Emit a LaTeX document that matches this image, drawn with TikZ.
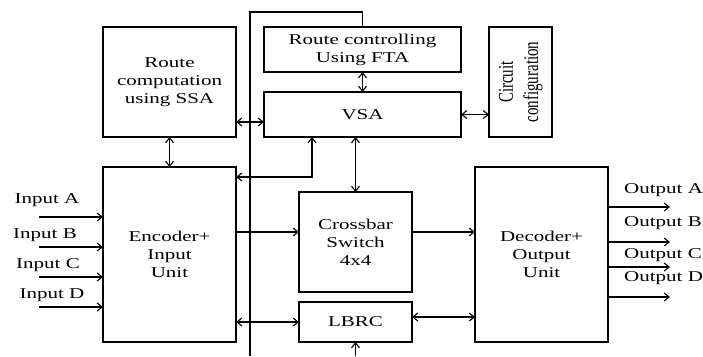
\documentclass[tikz,border=0pt]{standalone}
\usepackage{fontspec}
\setmainfont[FakeStretch=1.4]{Liberation Serif}
\newfontfamily\upfont{Liberation Serif}
\usepackage{graphicx}
\usetikzlibrary{arrows.meta,positioning}

\begin{document}
\begin{tikzpicture}[
			x=1pt, y=-1pt,
			font=\fontsize{15}{18}\selectfont,
			block/.style={draw, line width=1.2pt, align=center, inner sep=0pt, outer sep=0pt},
			lbl/.style={inner sep=0pt},
			arrow/.style={line width=1.1pt, -{Straight Barb[length=5pt,width=8pt]}},
			darrow/.style={line width=1.1pt, {Straight Barb[length=5pt,width=8pt]}-{Straight Barb[length=5pt,width=8pt]}},
			bus/.style={line width=1.6pt}
			]
			\useasboundingbox (0,0) rectangle (703,356);
			
			% 节点定义
			\node (ssa) [block, minimum width=133pt, minimum height=110pt, anchor=north west] at (103,27) {Route\\computation\\using SSA};
			\node (enc) [block, minimum width=133pt, minimum height=175pt, below=30pt of ssa] {Encoder+\\Input\\Unit};
			\node (rc) [block, minimum width=197pt, minimum height=45pt, anchor=north west] at (264,27) {Route controlling\\Using FTA};
			\node (vsa) [block, minimum width=197pt, minimum height=45pt, below=20pt of rc] {VSA};
			\node (cc) [block, minimum width=63pt, minimum height=110pt, right=28pt of rc.north east, anchor=north west] {\rotatebox{90}{\scalebox{1}[1.4]{\upfont\begin{tabular}{@{}c@{}}Circuit\\configuration\end{tabular}}}};
			\node (cb) [block, minimum width=113pt, minimum height=100pt, anchor=north west] at (299,192) {Crossbar\\Switch\\4x4};
			\node (lbrc) [block, minimum width=113pt, minimum height=40pt, below=10pt of cb] {LBRC};
			\node (dec) [block, minimum width=133pt, minimum height=175pt, anchor=north west] at (475,167) {Decoder+\\Output\\Unit};
			
			% 总线
			\coordinate (busb) at (250,356);
			\coordinate (bust) at (250,12);
			\draw [bus] (busb) -- (bust) -| (rc.north);
			
			% 边缘箭头
			\draw [darrow] (ssa) -- (enc);
			\draw [darrow] ([yshift=15pt]ssa.south east) -- ([yshift=15pt]ssa.south east -| vsa.west);
			\draw [darrow] (rc) -- (vsa);
			\draw [darrow] (vsa.east) -- (vsa.east -| cc.west);
			\draw [darrow] (vsa.south -| cb.north) -- (cb.north);
			\draw [darrow] ([yshift=-10pt]enc.north east) -| ([xshift=48pt]vsa.south west);
			\draw [arrow] ([yshift=10pt]cb.west -| enc.east) -- ([yshift=10pt]cb.west);
			\draw [arrow] ([yshift=10pt]cb.east) -- ([yshift=10pt]cb.east -| dec.west);
			\draw [darrow] (lbrc.west -| enc.east) -- (lbrc.west);
			\draw [darrow] ([yshift=5pt]lbrc.east) -- ([yshift=5pt]lbrc.east -| dec.west);
			\coordinate (lbin) at (lbrc.south |- busb);
			\draw [arrow] (lbin) -- (lbrc.south);
			
			% 输入输出
			\foreach \n/\y/\ly/\lx in {A/217/200/47, B/247/235/45, C/277/265/48, D/307/295/52} {
				\coordinate (in\n) at (39,\y);
				\draw [arrow] (in\n) -- (in\n -| enc.west);
				\node (lin\n) [lbl] at (\lx,\ly) {Input \n};
			}
			\foreach \n/\y/\ly in {A/207/190, B/242/223, C/267/255, D/297/278} {
				\coordinate (out\n) at (670,\y);
				\draw [arrow] (out\n -| dec.east) -- (out\n);
				\node (lout\n) [lbl, anchor=west] at (624,\ly) {Output \n};
			}
			
		\end{tikzpicture}
\end{document}
